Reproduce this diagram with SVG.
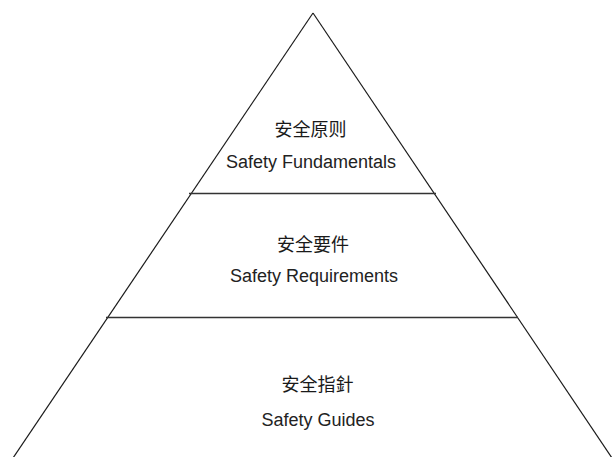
<svg xmlns="http://www.w3.org/2000/svg" width="613" height="457" viewBox="0 0 613 457">
<style>
.side{stroke:#1a1a1a;stroke-width:1.2;fill:none}
.div{stroke:#333;stroke-width:1.5;fill:none}
.cjk{font-family:"Noto Sans CJK SC",sans-serif;font-size:18px;fill:#1a1a1a;text-anchor:middle}
.en{font-family:"Liberation Sans",Arial,sans-serif;font-size:18px;fill:#222;text-anchor:middle}
</style>
<rect width="613" height="457" fill="#fff"/>
<g id="connectors">
<line class="side" x1="313" y1="13" x2="13" y2="458"/>
<line class="side" x1="313" y1="13" x2="612" y2="458"/>
<line class="div" x1="189" y1="193.5" x2="436" y2="193.5"/>
<line class="div" x1="106" y1="317.5" x2="518" y2="317.5"/>
</g>
<g id="fundamentals">
<text class="cjk" x="310.5" y="135.5">安全原则</text>
<text class="en" x="311" y="168">Safety Fundamentals</text>
</g>
<g id="requirements">
<text class="cjk" x="313" y="250.5">安全要件</text>
<text class="en" x="314" y="282">Safety Requirements</text>
</g>
<g id="guides">
<text class="cjk" x="317.5" y="391">安全指針</text>
<text class="en" x="318" y="426">Safety Guides</text>
</g>
</svg>
